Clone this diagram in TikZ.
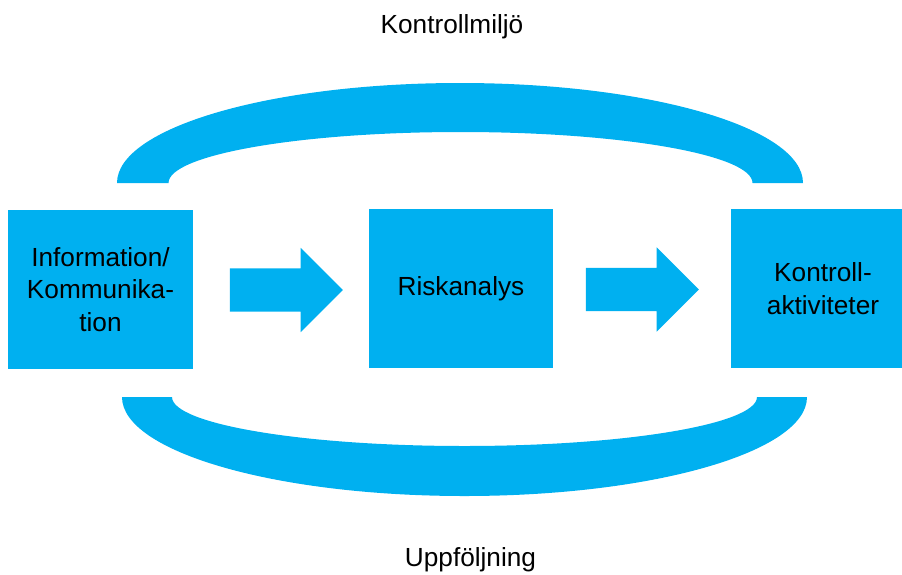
\documentclass[tikz,border=0pt]{standalone}
\usepackage{fontspec}
\setmainfont{Liberation Sans}
\usetikzlibrary{shapes.arrows}
\definecolor{ljusbla}{RGB}{0,176,240}

\begin{document}
\begin{tikzpicture}[x=1pt,y=1pt,
	ruta/.style={fill=ljusbla,minimum width=184pt,minimum height=159pt,inner sep=0pt,align=center,font=\fontsize{26.2}{32.5}\selectfont},
	pil/.style={single arrow,fill=ljusbla,inner sep=0pt,text height=21.5pt,text depth=21.5pt,minimum height=113pt,single arrow head extend=20.5pt,single arrow tip angle=90},
	rubrik/.style={anchor=base,font=\fontsize{26.2}{32.5}\selectfont}]
	\path[use as bounding box,clip] (0,0) rectangle (902,-574);
	
	% Kontrollmiljö (oben)
	\fill[ljusbla] (117,-183) arc[start angle=180,end angle=0,x radius=343,y radius=100] -- (752.5,-183) arc[start angle=0,end angle=180,x radius=292,y radius=51] -- cycle;
	% Uppföljning (unten)
	\fill[ljusbla] (122,-397) arc[start angle=180,end angle=360,x radius=342.5,y radius=99] -- (757,-397) arc[start angle=0,end angle=-180,x radius=292.5,y radius=49] -- cycle;
	
	% Rutor
	\node[ruta,minimum width=185pt] (info) at (100.5,-289.5) {Information/\\Kommunika-\\tion};
	\node[ruta] (risk) at (461,-288.5) {Riskanalys};
	\node[ruta] (ctrl) at (823,-288.5) {Kontroll-\\aktiviteter};
	
	% Pilar
	\node[pil] (pilA) at (275.5,-290) {};
	\node[pil] (pilB) at (631.5,-289.5) {};
	
	\node[rubrik] (miljo) at (452,-33) {Kontrollmiljö};
	\node[rubrik] (uppf) at (470.5,-566) {Uppföljning};
\end{tikzpicture}
\end{document}
